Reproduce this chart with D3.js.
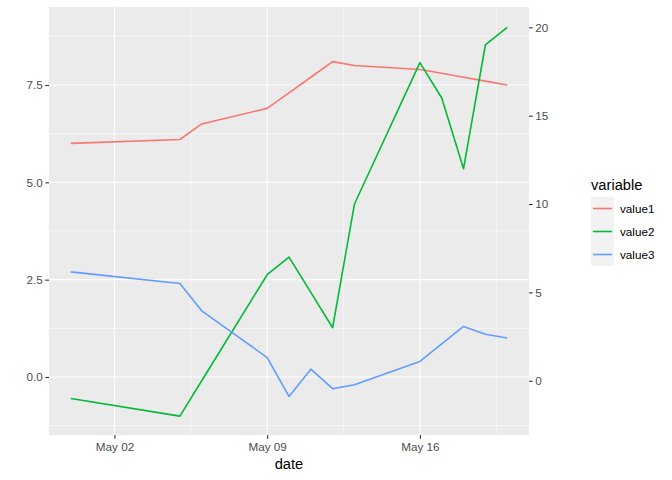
<!DOCTYPE html>
<html>
<head>
<meta charset="utf-8">
<script src="https://cdn.jsdelivr.net/npm/d3@7"></script>
<style>
  html, body { margin: 0; padding: 0; background: #fff; }
  svg { display: block; font-family: "Liberation Sans", Arial, sans-serif; }
</style>
</head>
<body>
<svg id="chart" width="672" height="480"></svg>
<script>
// ---- data ----
const dates = ["2021-04-30","2021-05-05","2021-05-06","2021-05-09","2021-05-10","2021-05-11",
               "2021-05-12","2021-05-13","2021-05-16","2021-05-17","2021-05-18","2021-05-19","2021-05-20"];
const value1 = [6.0, 6.1, 6.5, 6.9, 7.3, 7.7, 8.1, 8.0, 7.9, 7.8, 7.7, 7.6, 7.5];
const value2 = [-1, -2, 0, 6, 7, 5, 3, 10, 18, 16, 12, 19, 20];   // right axis units
const value3 = [2.7, 2.4, 1.7, 0.5, -0.5, 0.2, -0.3, -0.2, 0.4, 0.85, 1.3, 1.1, 1.0];
const seriesNames = ["value1", "value2", "value3"];
const seriesColors = ["#F8766D", "#00BA38", "#619CFF"];
const leftTicks = [0, 2.5, 5, 7.5];
const leftMinor = [-1.25, 1.25, 3.75, 6.25, 8.75];
const rightTicks = [0, 5, 10, 15, 20];
const xTicks = ["2021-05-02", "2021-05-09", "2021-05-16"];
const xMinor = ["2021-05-05T12:00", "2021-05-12T12:00", "2021-05-19T12:00"];

// ---- layout ----
const panel = { left: 49, right: 529, top: 7, bottom: 435 };
const parse = s => new Date(s.length > 10 ? s : s + "T00:00");
const x = d3.scaleTime().domain([parse("2021-04-29"), parse("2021-05-21")]).range([panel.left, panel.right]);
const yL = d3.scaleLinear().domain([-1.49, 9.504]).range([panel.bottom, panel.top]);
const yR = d3.scaleLinear().domain([-3.07, 21.15]).range([panel.bottom, panel.top]);

const svg = d3.select("#chart");
svg.append("rect").attr("x", panel.left).attr("y", panel.top)
  .attr("width", panel.right - panel.left).attr("height", panel.bottom - panel.top).attr("fill", "#EBEBEB");

const grid = svg.append("g");
leftMinor.forEach(v => grid.append("line").attr("x1", panel.left).attr("x2", panel.right)
  .attr("y1", yL(v)).attr("y2", yL(v)).attr("stroke", "#fff").attr("stroke-width", 0.55));
xMinor.forEach(v => grid.append("line").attr("y1", panel.top).attr("y2", panel.bottom)
  .attr("x1", x(parse(v))).attr("x2", x(parse(v))).attr("stroke", "#fff").attr("stroke-width", 0.55));
leftTicks.forEach(v => grid.append("line").attr("x1", panel.left).attr("x2", panel.right)
  .attr("y1", yL(v)).attr("y2", yL(v)).attr("stroke", "#fff").attr("stroke-width", 1.1));
xTicks.forEach(v => grid.append("line").attr("y1", panel.top).attr("y2", panel.bottom)
  .attr("x1", x(parse(v))).attr("x2", x(parse(v))).attr("stroke", "#fff").attr("stroke-width", 1.1));

// ---- lines ----
const pts = dates.map(parse);
const series = [
  { vals: value1, y: yL },
  { vals: value2, y: yR },
  { vals: value3, y: yL }
];
series.forEach((s, i) => {
  const line = d3.line().x((d, j) => x(pts[j])).y(d => s.y(d));
  svg.append("path").datum(s.vals).attr("d", line).attr("fill", "none")
    .attr("stroke", seriesColors[i]).attr("stroke-width", 1.6).attr("stroke-linejoin", "round");
});

// ---- axes ----
function styleAxis(g) {
  g.select(".domain").remove();
  g.selectAll(".tick line").attr("stroke", "#333333").attr("stroke-width", 1.1);
  g.selectAll(".tick text").attr("fill", "#4D4D4D").attr("font-size", "11.7px")
    .attr("font-family", "Liberation Sans, Arial, sans-serif");
}
svg.append("g").attr("transform", `translate(${panel.left},0)`)
  .call(d3.axisLeft(yL).tickValues(leftTicks).tickFormat(d3.format(".1f")).tickSize(3.7).tickPadding(2.5))
  .call(styleAxis);
svg.append("g").attr("transform", `translate(${panel.right},0)`)
  .call(d3.axisRight(yR).tickValues(rightTicks).tickFormat(d3.format("d")).tickSize(3.7).tickPadding(2.5))
  .call(styleAxis);
svg.append("g").attr("transform", `translate(0,${panel.bottom})`)
  .call(d3.axisBottom(x).tickValues(xTicks.map(parse)).tickFormat(d3.timeFormat("%b %d")).tickSize(3.7).tickPadding(4))
  .call(styleAxis);

svg.append("text").attr("x", (panel.left + panel.right) / 2).attr("y", 469)
  .attr("text-anchor", "middle").attr("font-size", "14.7px").attr("fill", "#000").text("date");

// ---- legend ----
const lg = svg.append("g");
lg.append("text").attr("x", 591).attr("y", 190).attr("font-size", "14.7px").attr("fill", "#000").text("variable");
seriesNames.forEach((n, i) => {
  const top = 197 + i * 23;
  lg.append("rect").attr("x", 591).attr("y", top).attr("width", 23).attr("height", 23).attr("fill", "#F2F2F2");
  lg.append("line").attr("x1", 593).attr("x2", 612).attr("y1", top + 11.5).attr("y2", top + 11.5)
    .attr("stroke", seriesColors[i]).attr("stroke-width", 1.6);
  lg.append("text").attr("x", 620).attr("y", top + 15.5).attr("font-size", "11.7px").attr("fill", "#000").text(n);
});
</script>
</body>
</html>
